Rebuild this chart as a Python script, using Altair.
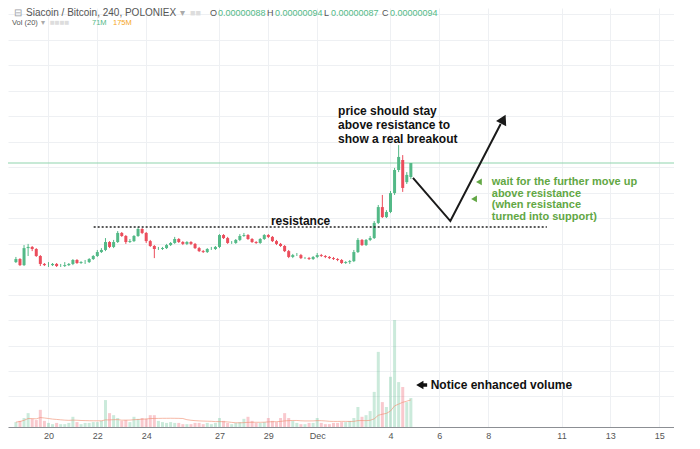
import altair as alt
import pandas as pd

# ---------------- data (4-hour candles, price in satoshi, volume in millions) ----------------
# day numbers: November dates as is, Dec 1 = 31
START_DAY = 18 + 16 / 24
STEP = 4 / 24

OPEN = [51.5, 52.8, 50.2, 57.5, 58.0, 57.1, 54.1, 50.7, 50.2, 50.2,
        50.7, 49.8, 49.8, 50.2, 50.7, 52.4, 51.1, 51.5, 51.5, 52.8,
        54.1, 55.8, 56.7, 60.1, 58.0, 60.1, 64.0, 62.7, 60.1, 60.5,
        62.7, 65.7, 64.0, 60.5, 58.4, 57.1, 57.1, 57.5, 58.8, 59.7,
        61.4, 60.1, 59.3, 60.1, 59.3, 57.5, 56.2, 55.8, 57.1, 57.1,
        58.0, 63.1, 61.8, 59.7, 59.7, 61.0, 62.7, 63.1, 61.4, 60.1,
        59.7, 61.4, 63.1, 62.3, 60.5, 59.3, 58.4, 56.2, 53.7, 54.5,
        54.5, 53.2, 53.2, 52.8, 53.7, 54.5, 54.1, 53.7, 53.2, 52.8,
        52.4, 51.1, 51.5, 51.9, 55.8, 61.0, 58.8, 61.0, 61.8, 68.3,
        75.1, 70.8, 73.0, 81.1, 91.0, 95.3, 85.8, 88.0]
CLOSE = [52.8, 50.2, 57.5, 58.0, 57.1, 54.1, 50.7, 50.2, 50.2, 50.7,
         49.8, 49.8, 50.2, 50.7, 52.4, 51.1, 51.5, 51.5, 52.8, 54.1,
         55.8, 56.7, 60.1, 58.0, 60.1, 64.0, 62.7, 60.1, 60.5, 62.7,
         65.7, 64.0, 60.5, 58.4, 57.1, 57.1, 57.5, 58.8, 59.7, 61.4,
         60.1, 59.3, 60.1, 59.3, 57.5, 56.2, 55.8, 57.1, 57.1, 58.0,
         63.1, 61.8, 59.7, 59.7, 61.0, 62.7, 63.1, 61.4, 60.1, 59.7,
         61.4, 63.1, 62.3, 60.5, 59.3, 58.4, 56.2, 53.7, 54.5, 54.5,
         53.2, 53.2, 52.8, 53.7, 54.5, 54.1, 53.7, 53.2, 52.8, 52.4,
         51.1, 51.5, 51.9, 55.8, 61.0, 58.8, 61.0, 61.8, 68.3, 75.1,
         70.8, 73.0, 81.1, 91.0, 96.6, 83.3, 88.9, 94.0]
HIGH = [53.7, 53.2, 58.8, 59.3, 58.4, 57.5, 54.5, 51.1, 51.5, 51.1,
        51.1, 50.7, 51.5, 51.1, 52.8, 52.8, 51.9, 52.4, 53.2, 54.5,
        56.7, 57.5, 61.8, 60.5, 61.0, 64.8, 64.4, 63.1, 61.4, 63.1,
        66.5, 66.1, 64.4, 61.0, 58.8, 58.0, 58.0, 59.3, 60.1, 62.3,
        61.8, 60.5, 60.5, 60.5, 59.7, 58.0, 56.7, 57.5, 58.0, 58.4,
        63.5, 63.5, 62.3, 60.5, 61.4, 63.5, 64.0, 63.5, 61.8, 60.5,
        61.8, 63.5, 63.5, 62.7, 61.0, 59.7, 58.8, 56.7, 55.0, 55.4,
        55.0, 53.7, 53.7, 54.1, 55.4, 55.0, 54.5, 54.1, 53.7, 53.2,
        52.8, 51.9, 52.4, 56.7, 61.8, 61.4, 61.4, 62.7, 69.1, 76.0,
        80.3, 73.8, 82.0, 91.9, 101.7, 97.4, 90.1, 94.0]
LOW = [51.1, 49.8, 49.8, 54.1, 56.2, 53.7, 49.8, 49.8, 49.4, 49.8,
       49.4, 49.4, 49.4, 49.8, 50.2, 50.7, 50.7, 50.7, 51.1, 52.4,
       53.7, 55.4, 56.2, 57.5, 57.5, 59.7, 62.3, 59.3, 59.7, 60.1,
       62.3, 63.5, 59.7, 58.0, 53.2, 56.7, 56.7, 57.1, 58.4, 59.3,
       59.7, 58.8, 58.8, 58.8, 57.1, 55.8, 55.4, 55.4, 56.7, 56.7,
       57.5, 61.4, 59.3, 59.3, 59.3, 60.5, 62.3, 61.0, 59.7, 59.3,
       59.3, 61.0, 61.8, 60.1, 58.8, 58.0, 55.8, 53.2, 53.2, 54.1,
       52.8, 52.8, 52.4, 52.4, 53.2, 53.7, 53.2, 52.8, 52.4, 51.9,
       50.7, 50.7, 50.7, 51.5, 55.4, 58.4, 58.4, 60.5, 61.4, 67.8,
       70.4, 70.4, 72.5, 80.3, 90.1, 81.6, 85.0, 87.1]
VOLUME = [12, 15, 22, 34, 20, 17, 42, 15, 10, 7,
          10, 7, 7, 10, 25, 12, 7, 10, 10, 12,
          12, 15, 66, 34, 29, 22, 15, 17, 12, 25,
          20, 22, 20, 29, 29, 15, 12, 10, 12, 10,
          10, 7, 7, 7, 10, 10, 7, 10, 7, 10,
          22, 15, 10, 7, 10, 12, 20, 25, 15, 10,
          10, 12, 22, 15, 12, 22, 34, 22, 15, 10,
          7, 7, 10, 10, 22, 10, 7, 7, 10, 10,
          12, 12, 15, 22, 49, 25, 29, 39, 86, 184,
          61, 49, 123, 262, 110, 98, 61, 71]

TICK_DAYS = [20, 22, 24, 27, 29, 31, 34, 36, 38, 41, 43, 45]
GRID_LEVELS = [-6.0, 4.8, 15.5, 26.6, 37.4, 48.5, 59.3, 70.4, 81.1, 92.3,
               103.0, 114.2, 124.9, 136.0, 146.8, 157.9]

RESISTANCE = 66.5
RES_FROM, RES_TO = 21.85, 40.40
PATH_T = [34.92, 36.45, 38.51]
PATH_P = [87.6, 69.1, 110.7]
HEAD_T, HEAD_P = 38.62, 112.8
GREEN_MARK_T = [37.62, 37.42]
GREEN_MARK_P = [85.9, 78.6]

GREEN = "#53b987"
RED = "#eb4d5c"
NOTE_GREEN = "#62a744"
FONT = "Liberation Sans"

n = len(CLOSE)
times = [START_DAY + i * STEP for i in range(n)]
df = pd.DataFrame({"t": times, "open": OPEN, "close": CLOSE, "high": HIGH,
                   "low": LOW, "vol": VOLUME})
df["dir"] = ["up" if c >= o else "down" for o, c in zip(OPEN, CLOSE)]

X_DOMAIN = [18.548, 45.40]
P_DOMAIN = [-19.25, 160.5]
V_DOMAIN = [0, 1026.5]

x_axis = alt.Axis(values=TICK_DAYS,
                  labelExpr="datum.value == 31 ? 'Dec' : (datum.value > 31 ? '' + (datum.value - 30) : '' + datum.value)",
                  grid=True, gridColor="#eef0f3", ticks=False, domainColor="#8c8f94",
                  labelColor="#555555", labelFontSize=9, labelFont=FONT, labelPadding=4,
                  title=None)
y_axis = alt.Axis(values=GRID_LEVELS, grid=True, gridColor="#eef0f3", labels=False,
                  ticks=False, domain=False, title=None)
xs = alt.Scale(domain=X_DOMAIN, nice=False, zero=False)
ps = alt.Scale(domain=P_DOMAIN, nice=False, zero=False)
vs = alt.Scale(domain=V_DOMAIN, nice=False, zero=False)


def X(f):
    return alt.X(f"{f}:Q", scale=xs, axis=x_axis)


def P(f):
    return alt.Y(f"{f}:Q", scale=ps, axis=y_axis)


dir_color = alt.Color("dir:N", scale=alt.Scale(domain=["up", "down"], range=[GREEN, RED]),
                      legend=None)

base = alt.Chart(df)

# ---------------- volume pane ----------------
vol_bars = base.mark_bar(size=3, opacity=0.3).encode(
    x=X("t"), y=alt.Y("vol:Q", scale=vs, axis=None), color=dir_color)
vol_ma = base.transform_window(
    ma="mean(vol)", frame=[-19, 0], sort=[alt.SortField("t", order="ascending")]
).mark_line(color="#f08a6c", strokeWidth=1, opacity=0.6).encode(
    x=X("t"), y=alt.Y("ma:Q", scale=vs, axis=None))
volume = alt.layer(vol_bars, vol_ma)

# ---------------- price pane ----------------
wicks = base.mark_rule(strokeWidth=1).encode(x=X("t"), y=P("low"), y2="high", color=dir_color)
bodies = base.mark_bar(size=3).encode(x=X("t"), y=P("open"), y2="close", color=dir_color)

last_df = pd.DataFrame({"p": [CLOSE[-1]]})
price_line = alt.Chart(last_df).mark_rule(color="#8fd4ad", strokeWidth=1).encode(y=P("p"))

res_df = pd.DataFrame({"t": [RES_FROM], "t2": [RES_TO], "p": [RESISTANCE]})
res_line = alt.Chart(res_df).mark_rule(color="#222222", strokeWidth=1.5, strokeDash=[2, 2]).encode(
    x=X("t"), x2="t2", y=P("p"))

path_df = pd.DataFrame({"t": PATH_T, "p": PATH_P, "o": list(range(len(PATH_T)))})
path = alt.Chart(path_df).mark_line(color="#1a1a1a", strokeWidth=2).encode(
    x=X("t"), y=P("p"), order="o:Q")
head = alt.Chart(pd.DataFrame({"t": [HEAD_T], "p": [HEAD_P]})).mark_point(
    shape="triangle-up", filled=True, size=130, angle=27, color="#1a1a1a", opacity=1).encode(
    x=X("t"), y=P("p"))

gm = alt.Chart(pd.DataFrame({"t": GREEN_MARK_T, "p": GREEN_MARK_P})).mark_point(
    shape="triangle-left", filled=True, size=45, color=NOTE_GREEN, opacity=1).encode(
    x=X("t"), y=P("p"))

top_note = alt.Chart(pd.DataFrame({
    "t": [31.855], "p": [118.4],
    "txt": ["price should stay\nabove resistance to\nshow a real breakout"]})).mark_text(
    align="left", baseline="top", lineBreak="\n", lineHeight=14, font=FONT, fontSize=12,
    fontWeight="bold", color="#111111").encode(x=X("t"), y=P("p"), text="txt:N")

res_note = alt.Chart(pd.DataFrame({"t": [30.32], "p": [69.1], "txt": ["resistance"]})).mark_text(
    align="center", baseline="middle", font=FONT, fontSize=12, fontWeight="bold",
    color="#111111").encode(x=X("t"), y=P("p"), text="txt:N")

green_note = alt.Chart(pd.DataFrame({
    "t": [38.145], "p": [88.4],
    "txt": ["wait for the further move up\nabove resistance\n(when resistance\nturned into support)"]})).mark_text(
    align="left", baseline="top", lineBreak="\n", lineHeight=11.7, font=FONT, fontSize=11,
    fontWeight="bold", color=NOTE_GREEN).encode(x=X("t"), y=P("p"), text="txt:N")

vol_note = alt.Chart(pd.DataFrame({"t": [35.645], "p": [-1.24], "txt": ["Notice enhanced volume"]})).mark_text(
    align="left", baseline="middle", font=FONT, fontSize=12, fontWeight="bold",
    color="#111111").encode(x=X("t"), y=P("p"), text="txt:N")
vol_arrow_shaft = alt.Chart(pd.DataFrame({"t": [35.26], "t2": [35.50], "p": [-1.24]})).mark_rule(
    color="#111111", strokeWidth=3.5).encode(x=X("t"), x2="t2", y=P("p"))
vol_arrow_head = alt.Chart(pd.DataFrame({"t": [35.20], "p": [-1.24]})).mark_point(
    shape="triangle-left", filled=True, size=70, color="#111111", opacity=1).encode(
    x=X("t"), y=P("p"))

# ---------------- header (legend line) ----------------
HEADER = [
    ("\u229f", 6, 5, "#9aa0a6", 10),
    ("Siacoin / Bitcoin, 240, POLONIEX", 18, 5, "#555555", 10),
    ("\u25be", 172, 5, "#aaaaaa", 10),
    ("\u25a0\u25a0", 182, 5, "#dddddd", 9),
    ("O", 202, 5, "#555555", 9),
    ("0.00000088", 210, 5, GREEN, 9),
    ("H", 259, 5, "#555555", 9),
    ("0.00000094", 267, 5, GREEN, 9),
    ("L", 316, 5, "#555555", 9),
    ("0.00000087", 323, 5, GREEN, 9),
    ("C", 374, 5, "#555555", 9),
    ("0.00000094", 382, 5, GREEN, 9),
    ("Vol (20)", 4, 15, "#555555", 7.5),
    ("\u25be", 33, 15, "#aaaaaa", 7.5),
    ("\u25a0\u25a0\u25a0\u25a0", 42, 15, "#dddddd", 8),
    ("71M", 84, 15, GREEN, 7.5),
    ("175M", 105, 15, "#f5a623", 7.5),
]
header_layers = [
    alt.Chart(pd.DataFrame({"txt": [txt]})).mark_text(
        align="left", baseline="middle", font=FONT, fontSize=fs, color=col).encode(
        text="txt:N", x=alt.value(px), y=alt.value(py))
    for txt, px, py, col, fs in HEADER
]

price = alt.layer(price_line, wicks, bodies, res_line, path, head, gm, top_note, res_note,
                  green_note, vol_note, vol_arrow_shaft, vol_arrow_head, *header_layers)

chart = alt.layer(volume, price).resolve_scale(y="independent").properties(
    width=666, height=419, autosize="none",
    padding={"left": 0, "top": 0, "right": 0, "bottom": 20},
    background="white",
).configure_view(stroke=None)

chart.save("out.html", embed_options={"renderer": "svg", "actions": False})
